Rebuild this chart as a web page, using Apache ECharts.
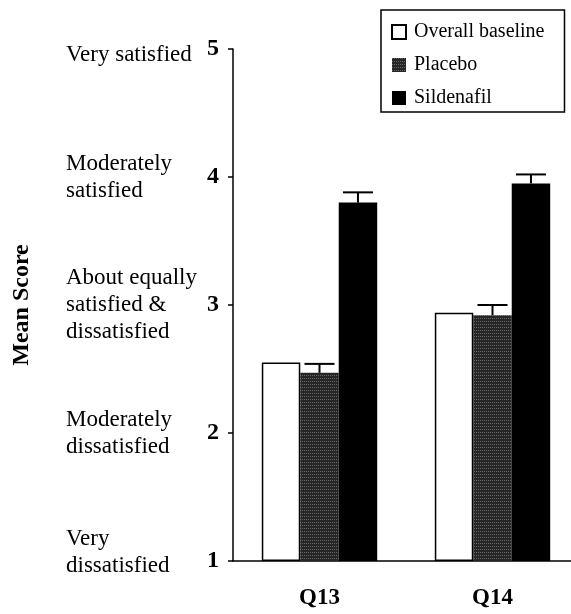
<!DOCTYPE html>
<html>
<head>
<meta charset="utf-8">
<script src="https://cdn.jsdelivr.net/npm/echarts@6/dist/echarts.min.js"></script>
<style>
html,body{margin:0;padding:0;background:#fff;}
#chart{width:571px;height:614px;}
</style>
</head>
<body>
<div id="chart"></div>
<script>
const categories = ['Q13', 'Q14'];
const seriesNames = ['Overall baseline', 'Placebo', 'Sildenafil'];
const baseline = [2.55, 2.94];
const placebo = [2.47, 2.92];
const placeboErr = [0.07, 0.08];
const sildenafil = [3.80, 3.95];
const sildenafilErr = [0.08, 0.07];
const yTickValues = [1, 2, 3, 4, 5];
const yTickLabels = ['1', '2', '3', '4', '5'];
const yDescLabels = ['Very\ndissatisfied', 'Moderately\ndissatisfied', 'About equally\nsatisfied &\ndissatisfied', 'Moderately\nsatisfied', 'Very satisfied'];

const FONT = "'Liberation Serif', 'Times New Roman', 'DejaVu Serif', serif";
const CAT_GAP = 0.333;

function errRender(offsetIndex) {
  return function (params, api) {
    const x = api.value(0), v = api.value(1), e = api.value(2);
    const band = api.size([1, 0])[0];
    const barW = band * (1 - CAT_GAP) / 3;
    const c0 = api.coord([x, v]);
    const c1 = api.coord([x, v + e]);
    const cx = c0[0] + offsetIndex * barW;
    const half = 15;
    const style = { stroke: '#000', lineWidth: 2 };
    return {
      type: 'group',
      children: [
        { type: 'line', shape: { x1: cx, y1: c0[1], x2: cx, y2: c1[1] }, style: style },
        { type: 'line', shape: { x1: cx - half, y1: c1[1], x2: cx + half, y2: c1[1] }, style: style }
      ]
    };
  };
}

const chart = echarts.init(document.getElementById('chart'), null, { renderer: 'canvas' });
chart.setOption({
  backgroundColor: '#fff',
  animation: false,
  textStyle: { fontFamily: FONT, color: '#000' },
  legend: {
    data: seriesNames,
    orient: 'vertical',
    left: 381,
    top: 10,
    padding: [12, 20, 4, 10],
    itemWidth: 14,
    itemHeight: 14,
    itemGap: 13,
    borderColor: '#000',
    borderWidth: 1.5,
    icon: 'rect',
    textStyle: { fontFamily: FONT, fontSize: 20, color: '#000', lineHeight: 20, padding: [0, 0, 0, 3] }
  },
  grid: { left: 233, right: -8, top: 49, bottom: 53, containLabel: false, outerBoundsMode: 'none' },
  xAxis: {
    type: 'category',
    data: categories,
    axisLine: { lineStyle: { color: '#000', width: 1.5 } },
    axisTick: { show: false },
    axisLabel: { fontFamily: FONT, fontWeight: 'bold', fontSize: 23, color: '#000', margin: 26 }
  },
  yAxis: [
    {
      type: 'value',
      min: 1, max: 5, interval: 1,
      startValue: 1,
      name: 'Mean Score',
      nameLocation: 'middle',
      nameRotate: 90,
      nameGap: 199,
      nameTextStyle: { fontFamily: FONT, fontWeight: 'bold', fontSize: 24, color: '#000' },
      splitLine: { show: false },
      axisLine: { show: true, lineStyle: { color: '#000', width: 1.5 } },
      axisTick: { show: true, length: 5, lineStyle: { color: '#000', width: 1.5 } },
      axisLabel: {
        fontFamily: FONT, fontWeight: 'bold', fontSize: 24, color: '#000', margin: 14,
        formatter: function (v) { const i = yTickValues.indexOf(v); return i >= 0 ? yTickLabels[i] : ''; }
      }
    },
    {
      type: 'value',
      min: 1, max: 5, interval: 1,
      position: 'left',
      splitLine: { show: false },
      axisLine: { show: false },
      axisTick: { show: false },
      axisLabel: {
        align: 'left',
        margin: 167,
        formatter: function (v) {
          const i = yTickValues.indexOf(v);
          if (i < 0) return '';
          const style = i === 0 ? 'low' : (i === yTickValues.length - 1 ? 'high' : 'n');
          return yDescLabels[i].split('\n').map(function (s) { return '{' + style + '|' + s + '}'; }).join('\n');
        },
        rich: {
          n: { fontFamily: FONT, fontSize: 23, color: '#000', lineHeight: 27 },
          low: { fontFamily: FONT, fontSize: 23, color: '#000', lineHeight: 27, padding: [0, 0, 18, 0] },
          high: { fontFamily: FONT, fontSize: 23, color: '#000', lineHeight: 27, padding: [12, 0, 0, 0] }
        }
      }
    }
  ],
  series: [
    {
      name: seriesNames[0], type: 'bar', data: baseline, barGap: '0%', barCategoryGap: '33.3%',
      clip: true,
      itemStyle: { color: '#fff', borderColor: '#000', borderWidth: 1.5 }
    },
    {
      name: seriesNames[1], type: 'bar', data: placebo, barGap: '0%', barCategoryGap: '33.3%',
      clip: true,
      itemStyle: {
        color: '#262626',
        decal: { symbol: 'rect', symbolSize: 1, color: 'rgba(255,255,255,0.3)', dashArrayX: [1, 1], dashArrayY: [1, 2], rotation: 0 }
      }
    },
    {
      name: seriesNames[2], type: 'bar', data: sildenafil, barGap: '0%', barCategoryGap: '33.3%',
      clip: true,
      itemStyle: { color: '#000' }
    },
    {
      type: 'custom', name: 'placeboErr', renderItem: errRender(0), z: 5,
      data: categories.map(function (c, i) { return [i, placebo[i], placeboErr[i]]; }),
      encode: { x: 0, y: 1 }
    },
    {
      type: 'custom', name: 'sildenafilErr', renderItem: errRender(1), z: 5,
      data: categories.map(function (c, i) { return [i, sildenafil[i], sildenafilErr[i]]; }),
      encode: { x: 0, y: 1 }
    }
  ]
});
</script>
</body>
</html>
